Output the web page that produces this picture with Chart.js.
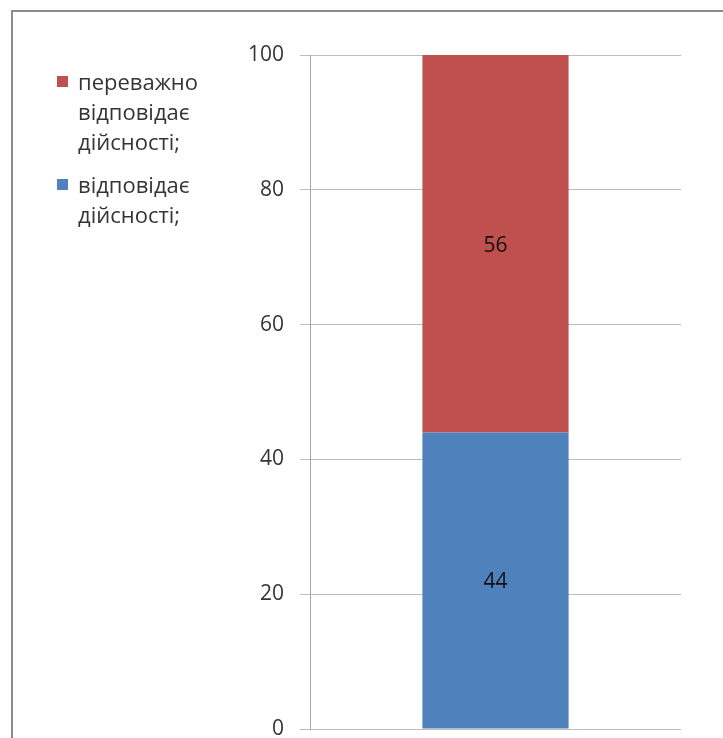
<!DOCTYPE html>
<html>
<head>
<meta charset="utf-8">
<script src="https://cdn.jsdelivr.net/npm/chart.js@4/dist/chart.umd.min.js"></script>
<style>
  html, body { margin: 0; padding: 0; background: #fff; overflow: hidden; }
  #wrap { position: relative; width: 723px; height: 738px; }
</style>
</head>
<body>
<div id="wrap"><canvas id="chart"></canvas></div>
<script>
// data
var categories = [''];
var blueValues = [44];   // відповідає дійсності;
var redValues = [56];    // переважно відповідає дійсності;
var blueLabel = ['відповідає', 'дійсності;'];
var redLabel = ['переважно', 'відповідає', 'дійсності;'];
var yTicks = { min: 0, max: 100, step: 20 };

var FONT = "'Open Sans', 'DejaVu Sans', sans-serif";

// frame round the whole picture
var framePlugin = {
  id: 'frame',
  beforeDraw: function (chart) {
    var ctx = chart.ctx;
    ctx.save();
    ctx.strokeStyle = '#8c8c8c';
    ctx.lineWidth = 2;
    ctx.strokeRect(12, 11, 900, 900);
    ctx.restore();
  }
};

// values in the middle of each segment
var valueLabels = {
  id: 'valueLabels',
  afterDatasetsDraw: function (chart) {
    var ctx = chart.ctx;
    ctx.save();
    ctx.fillStyle = '#111';
    ctx.font = '21px ' + FONT;
    ctx.textAlign = 'center';
    ctx.textBaseline = 'middle';
    chart.data.datasets.forEach(function (ds, i) {
      chart.getDatasetMeta(i).data.forEach(function (bar, j) {
        var p = bar.getCenterPoint();
        ctx.fillText(ds.data[j], p.x, p.y + 2);
      });
    });
    ctx.restore();
  }
};

// legend on the left, wrapped labels, top series first
var sideLegend = {
  id: 'sideLegend',
  afterDraw: function (chart) {
    var ctx = chart.ctx;
    var lineH = 30;
    var y = 90;
    ctx.save();
    ctx.font = '22px ' + FONT;
    ctx.textBaseline = 'alphabetic';
    ctx.textAlign = 'left';
    var sets = chart.data.datasets.slice().reverse();
    sets.forEach(function (ds) {
      ctx.fillStyle = ds.backgroundColor;
      ctx.fillRect(57, y - 14, 11, 11);
      ctx.fillStyle = '#353535';
      ds.lines.forEach(function (line, k) {
        ctx.fillText(line, 78, y + k * lineH);
      });
      y += ds.lines.length * lineH + 13;
    });
    ctx.restore();
  }
};

new Chart(document.getElementById('chart'), {
  type: 'bar',
  data: {
    labels: categories,
    datasets: [
      { label: blueLabel.join(' '), lines: blueLabel, data: blueValues, backgroundColor: '#4f81bd' },
      { label: redLabel.join(' '), lines: redLabel, data: redValues, backgroundColor: '#c0504d' }
    ]
  },
  options: {
    responsive: true,
    maintainAspectRatio: false,
    animation: false,
    barPercentage: 0.394,
    categoryPercentage: 1,
    layout: { padding: { left: 0, top: 55, right: 42, bottom: 9 } },
    plugins: { legend: { display: false }, tooltip: { enabled: false } },
    scales: {
      x: { stacked: true, display: false },
      y: {
        stacked: true,
        min: yTicks.min,
        max: yTicks.max,
        ticks: { stepSize: yTicks.step, color: '#353535', font: { family: FONT, size: 21 }, padding: 16 },
        grid: { color: '#bdbdbd', tickLength: 10 },
        border: { color: '#a6a6a6' },
        afterFit: function (s) {
          s.width = 310;
          s.paddingTop = 0;
          s.paddingBottom = 0;
        }
      }
    }
  },
  plugins: [framePlugin, valueLabels, sideLegend]
});
</script>
</body>
</html>
